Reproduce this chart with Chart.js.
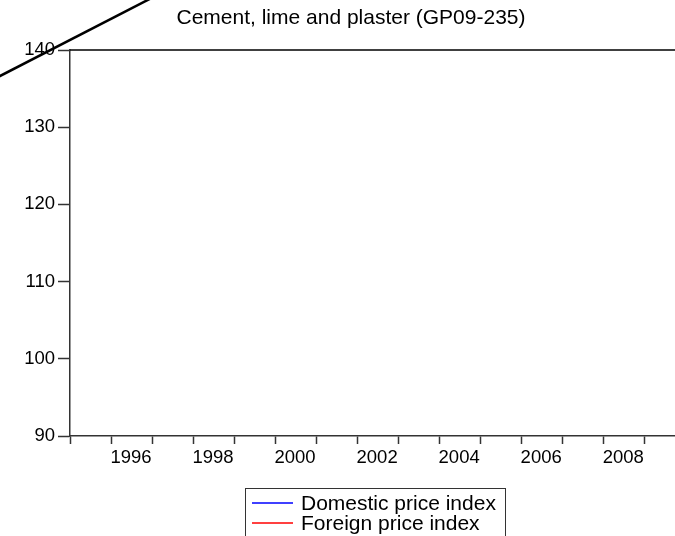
<!DOCTYPE html>
<html>
<head>
<meta charset="utf-8">
<script src="https://cdn.jsdelivr.net/npm/chart.js@4.4.1/dist/chart.umd.min.js"></script>
<style>
  html, body { margin: 0; padding: 0; background: #fff; }
  #wrap { width: 675px; height: 536px; }
</style>
</head>
<body>
<div id="wrap"><canvas id="chart"></canvas></div>
<script>
// --- Data ---
const TITLE = 'Cement, lime and plaster (GP09-235)';
const tickYears = [1995, 1996, 1997, 1998, 1999, 2000, 2001, 2002, 2003, 2004, 2005, 2006, 2007, 2008, 2009];
const yTicks = [90, 100, 110, 120, 130, 140];
// no observations fall inside the visible range
const domesticIndex = [];
const foreignIndex = [];
// the stray black line crossing the top-left corner
const strayYears = [1992, 1998];
const strayValues = [133.1, 149.5];

const FONT = 'Liberation Sans';
Chart.defaults.font.family = FONT;
Chart.defaults.color = '#000';

// Title centred where the original puts it
const titlePlugin = {
    id: 'customTitle',
    afterDraw(chart) {
        const ctx = chart.ctx;
        ctx.save();
        ctx.font = `21px "${FONT}"`;
        ctx.fillStyle = '#000';
        ctx.textAlign = 'center';
        ctx.textBaseline = 'middle';
        ctx.fillText(TITLE, 351, 18);
        ctx.restore();
    }
};

// Top frame line of the plot area
const framePlugin = {
    id: 'frame',
    afterDraw(chart) {
        const a = chart.chartArea;
        const ctx = chart.ctx;
        ctx.save();
        ctx.strokeStyle = '#000';
        ctx.lineWidth = 1.5;
        ctx.beginPath();
        ctx.moveTo(a.left, a.top);
        ctx.lineTo(a.right, a.top);
        ctx.stroke();
        ctx.restore();
    }
};

// Boxed legend below the plot
const boxLegendPlugin = {
    id: 'boxLegend',
    afterDraw(chart) {
        const ctx = chart.ctx;
        const items = chart.data.datasets.filter(d => d.label);
        ctx.save();
        ctx.strokeStyle = '#333';
        ctx.lineWidth = 1;
        ctx.strokeRect(245.5, 488.5, 260, 60);
        ctx.font = `21px "${FONT}"`;
        ctx.textBaseline = 'middle';
        ctx.textAlign = 'left';
        items.forEach((d, i) => {
            const y = 503 + i * 20;
            ctx.strokeStyle = d.borderColor;
            ctx.lineWidth = 1.5;
            ctx.beginPath();
            ctx.moveTo(252, y);
            ctx.lineTo(293, y);
            ctx.stroke();
            ctx.fillStyle = '#000';
            ctx.fillText(d.label, 301, y + 1);
        });
        ctx.restore();
    }
};

new Chart(document.getElementById('chart'), {
    type: 'line',
    data: {
        datasets: [
            {
                label: 'Domestic price index',
                data: domesticIndex,
                borderColor: '#0000ff',
                borderWidth: 1.5,
                pointRadius: 0
            },
            {
                label: 'Foreign price index',
                data: foreignIndex,
                borderColor: '#ff0000',
                borderWidth: 1.5,
                pointRadius: 0
            },
            {
                data: strayYears.map((x, i) => ({ x: x, y: strayValues[i] })),
                borderColor: '#000',
                borderWidth: 2.5,
                pointRadius: 0,
                clip: false
            }
        ]
    },
    options: {
        responsive: true,
        maintainAspectRatio: false,
        animation: false,
        layout: { padding: { top: 50, left: 0, right: 0, bottom: 60 } },
        plugins: {
            legend: { display: false },
            title: { display: false },
            tooltip: { enabled: false }
        },
        scales: {
            x: {
                type: 'linear',
                min: 1995,
                max: 2009.75,
                afterBuildTicks: (scale) => { scale.ticks = tickYears.map(v => ({ value: v })); },
                afterFit: (scale) => { scale.height = 40; },
                ticks: {
                    autoSkip: false,
                    maxRotation: 0,
                    minRotation: 0,
                    labelOffset: 20,
                    padding: 3,
                    font: { size: 18.5 },
                    color: '#000',
                    callback: (value) => (value % 2 === 0 ? String(value) : '')
                },
                grid: { drawOnChartArea: false, tickLength: 8, tickColor: '#333', tickWidth: 1.5 },
                border: { color: '#333', width: 1.5 }
            },
            y: {
                min: 90,
                max: 140,
                afterBuildTicks: (scale) => { scale.ticks = yTicks.map(v => ({ value: v })); },
                afterFit: (scale) => { scale.width = 70; },
                ticks: {
                    padding: 3,
                    font: { size: 18.5 },
                    color: '#000'
                },
                grid: { drawOnChartArea: false, tickLength: 12, tickColor: '#333', tickWidth: 1.5 },
                border: { color: '#333', width: 1.5 }
            }
        }
    },
    plugins: [titlePlugin, framePlugin, boxLegendPlugin]
});
</script>
</body>
</html>
